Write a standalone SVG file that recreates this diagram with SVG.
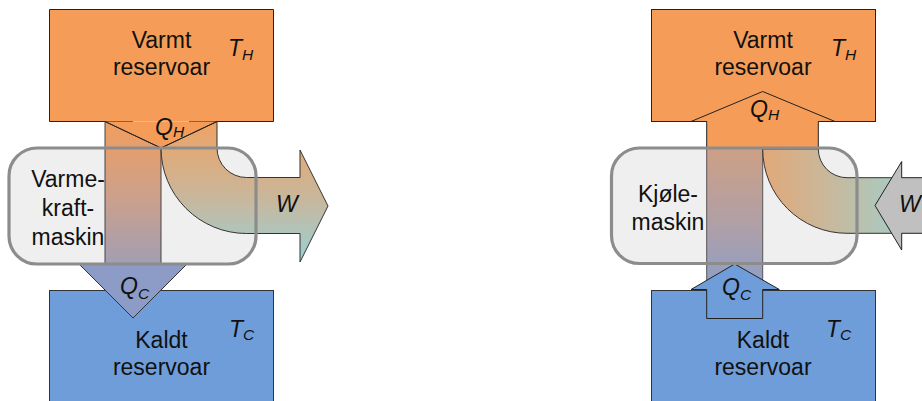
<svg xmlns="http://www.w3.org/2000/svg" width="922" height="401" viewBox="0 0 922 401">
  <defs>
    <!-- heat flow from hot (orange) to cold (blue) -->
    <linearGradient id="gBarL" x1="0" y1="121" x2="0" y2="300" gradientUnits="userSpaceOnUse">
      <stop offset="0" stop-color="#F29E5E"/>
      <stop offset="0.45" stop-color="#C9A08E"/>
      <stop offset="1" stop-color="#8C9DC8"/>
    </linearGradient>
    <linearGradient id="gCurveL" x1="0" y1="121" x2="0" y2="262" gradientUnits="userSpaceOnUse">
      <stop offset="0" stop-color="#EFA263"/>
      <stop offset="0.55" stop-color="#C8B79C"/>
      <stop offset="1" stop-color="#9BD0D4"/>
    </linearGradient>
    <linearGradient id="gBarR" x1="0" y1="148" x2="0" y2="290" gradientUnits="userSpaceOnUse">
      <stop offset="0" stop-color="#CDA085"/>
      <stop offset="0.5" stop-color="#B29FA4"/>
      <stop offset="1" stop-color="#8E9FC8"/>
    </linearGradient>
    <linearGradient id="gCurveR" x1="762" y1="0" x2="905" y2="0" gradientUnits="userSpaceOnUse">
      <stop offset="0" stop-color="#E2A878"/>
      <stop offset="0.6" stop-color="#C0BDA6"/>
      <stop offset="1" stop-color="#A3CEC8"/>
    </linearGradient>
    <style>
      .hot { fill: #F59D58; }
      .cold { fill: #6F9DD9; }
      .edge { fill: none; stroke: #222; stroke-width: 1; }
      .thin { stroke: #333; stroke-width: 1; }
      .engineFill { fill: #EFEFEF; }
      .engineEdge { fill: none; stroke: #8C8C8C; stroke-width: 3.2; }
      text { font-family: "Liberation Sans", Arial, sans-serif; font-size: 23px; fill: #111; }
      .c { text-anchor: middle; }
      .it { font-style: italic; }
      .sub { font-size: 15.5px; }
    </style>
  </defs>

  <!-- ===== Heat engine (left) ===== -->
  <g id="hot-reservoir-left">
    <rect class="hot" x="49.5" y="9.5" width="224" height="112"/>
    <path class="edge" d="M133,121.5 H49.5 V9.5 H273.5 V121.5 H189"/>
  </g>
  <g id="cold-reservoir-left">
    <rect class="cold thin" x="49.5" y="290.5" width="224" height="120"/>
  </g>
  <g id="engine-left-body">
    <rect class="engineFill" x="9" y="148" width="247" height="116" rx="28" ry="28"/>
  </g>

  <g id="flows-left">
    <rect class="hot" x="105" y="121.5" width="112" height="27"/>
    <!-- Q_C part going down into the cold reservoir -->
    <polygon points="79,264 133,318 187,264" fill="#8C9CC6" stroke="#333" stroke-width="1"/>
    <!-- straight band hot -> cold -->
    <polygon points="105,121.5 161,148 161,264 105,264" fill="url(#gBarL)" stroke="#444" stroke-width="1"/>
    <!-- curved band turning into work W -->
    <path d="M161,148 L217,121.5 L217,148 A29.5,29.5 0 0 0 246.5,177.5 L300,177.5 L300,150 L328,206 L300,262 L300,233.5 L246.5,233.5 A85.5,85.5 0 0 1 161,148 Z" fill="url(#gCurveL)" stroke="#333" stroke-width="1"/>
    <path class="edge" d="M105,121.5 L161,148 L217,121.5"/>
  </g>

  <g id="engine-left">
    <rect class="engineEdge" x="9" y="148" width="247" height="116" rx="28" ry="28"/>
    <text class="c" x="68" y="187">Varme-</text>
    <text class="c" x="68" y="216">kraft-</text>
    <text class="c" x="68" y="245">maskin</text>
  </g>

  <g id="labels-left">
    <text class="c" x="161.5" y="48">Varmt</text>
    <text class="c" x="161.5" y="75">reservoar</text>
    <text class="it" x="228" y="56">T<tspan class="sub" dy="4">H</tspan></text>
    <text class="it" x="155" y="135">Q<tspan class="sub" dy="2">H</tspan></text>
    <text class="it" x="276" y="212">W</text>
    <text class="it" x="120" y="294">Q<tspan class="sub" dy="5">C</tspan></text>
    <text class="it" x="229" y="337">T<tspan class="sub" dy="3">C</tspan></text>
    <text class="c" x="161.5" y="348">Kaldt</text>
    <text class="c" x="161.5" y="375">reservoar</text>
  </g>

  <!-- ===== Refrigerator (right) ===== -->
  <g id="hot-reservoir-right">
    <rect class="hot edge" x="651.5" y="9.5" width="224" height="112" style="fill:#F59D58"/>
  </g>
  <g id="cold-reservoir-right">
    <rect class="cold thin" x="651.5" y="290.5" width="224" height="120"/>
  </g>
  <g id="engine-right-body">
    <rect class="engineFill" x="611.5" y="148" width="245.5" height="115.5" rx="28" ry="28"/>
  </g>

  <g id="flows-right">
    <!-- straight band cold -> hot -->
    <rect x="706.7" y="148" width="56" height="142" fill="url(#gBarR)" stroke="#555" stroke-width="1"/>
    <!-- curved band bringing work W in -->
    <path d="M762.7,149 A84.3,84.3 0 0 0 847,233.3 L902,233.3 L902,177.7 L847,177.7 A28.7,28.7 0 0 1 818.3,149 Z" fill="url(#gCurveR)" stroke="#333" stroke-width="1"/>
    <!-- Q_H delivered up to the hot reservoir -->
    <polygon class="hot" points="706.7,148 706.7,121.5 691,121.5 762.7,91.5 835,121.5 818.3,121.5 818.3,148" stroke="#222" stroke-width="1"/>
    <!-- Q_C taken from the cold reservoir -->
    <polygon class="cold" points="706.7,318.5 706.7,289.5 691,289.5 734.7,264 779.3,289.5 762.7,289.5 762.7,318.5" stroke="#222" stroke-width="1"/>
    <!-- work W arrow -->
    <polygon points="930,177.7 901.7,177.7 901.7,161.5 875,205.5 901.7,250 901.7,233.3 930,233.3" fill="#C0C0C0" stroke="#222" stroke-width="1"/>
  </g>

  <g id="engine-right">
    <rect class="engineEdge" x="611.5" y="148" width="245.5" height="115.5" rx="28" ry="28"/>
    <text class="c" x="668" y="202">Kjøle-</text>
    <text class="c" x="668" y="230">maskin</text>
  </g>

  <g id="labels-right">
    <text class="c" x="763" y="48">Varmt</text>
    <text class="c" x="763" y="75">reservoar</text>
    <text class="it" x="831" y="56">T<tspan class="sub" dy="4">H</tspan></text>
    <text class="it" x="750" y="117">Q<tspan class="sub" dy="3">H</tspan></text>
    <text class="it" x="899" y="212">W</text>
    <text class="it" x="722" y="295">Q<tspan class="sub" dy="5">C</tspan></text>
    <text class="it" x="826" y="337">T<tspan class="sub" dy="3">C</tspan></text>
    <text class="c" x="763" y="348">Kaldt</text>
    <text class="c" x="763" y="375">reservoar</text>
  </g>
</svg>
